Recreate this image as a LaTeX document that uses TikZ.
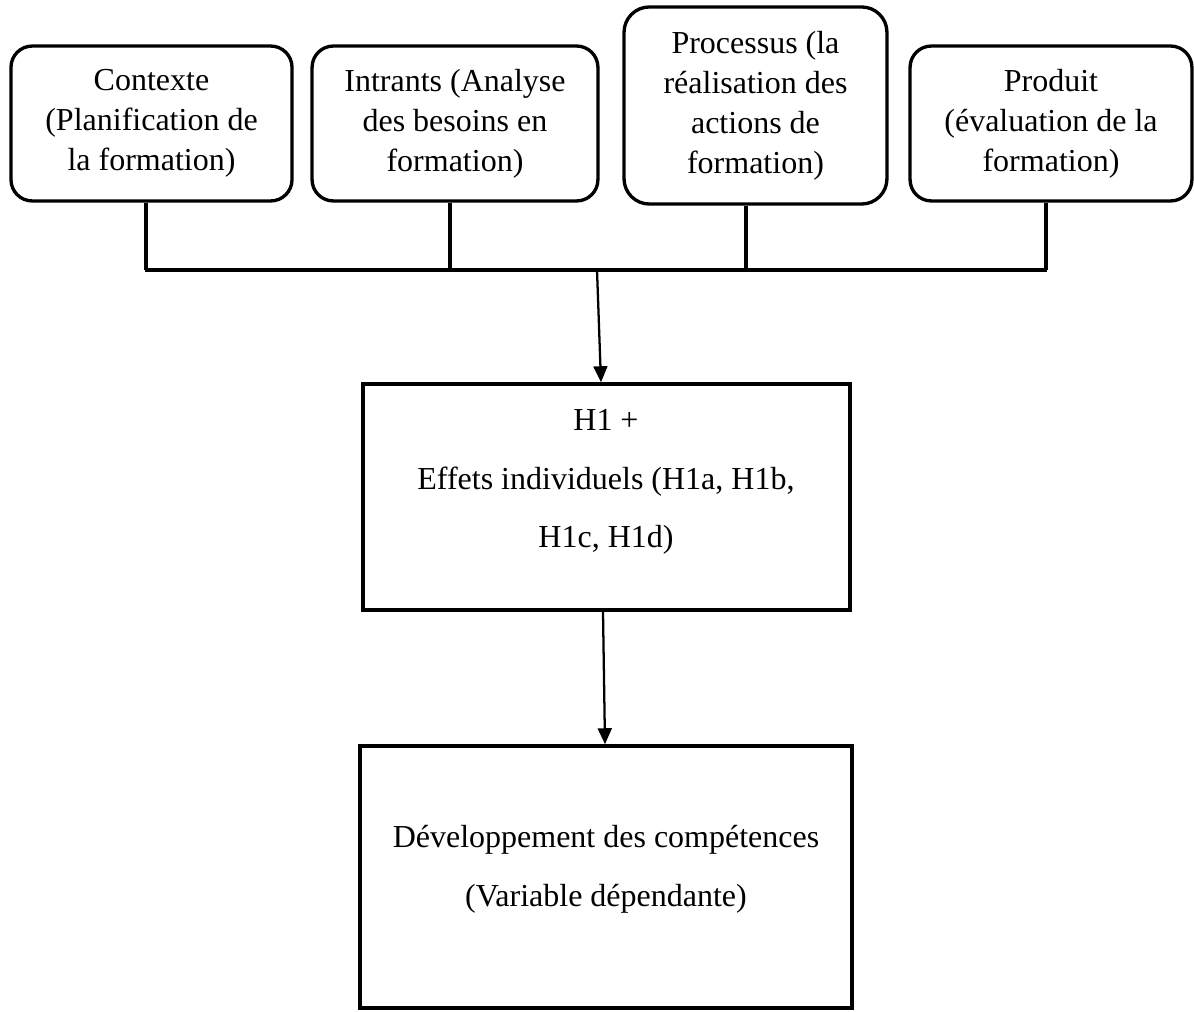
\documentclass[tikz,border=0pt]{standalone}
\usepackage{fontspec}
\setmainfont{Liberation Serif}
\usetikzlibrary{arrows.meta}

\tikzset{
  topbox/.style={draw, line width=1.25pt, rounded corners=8pt, align=center,
    inner sep=0pt, font=\fontsize{12}{15}\selectfont},
  plainbox/.style={draw, line width=1.35pt, inner sep=0pt},
  boxtext/.style={align=center, inner sep=0pt, font=\fontsize{12}{22}\selectfont},
  link/.style={line width=1.3pt},
  flow/.style={line width=0.85pt, -{Triangle[length=6pt,width=5.2pt]}}
}

\begin{document}
\begin{tikzpicture}[x=0.375pt,y=-0.375pt]
  \useasboundingbox[fill=white] (0,0) rectangle (1194,1012);

  % the four inputs
  \node[topbox, minimum width=105.4pt, minimum height=58.1pt] (ctx) at (151.5,123.5)
    {Contexte\\(Planification de\\la formation)};
  \node[topbox, minimum width=107.2pt, minimum height=58.1pt] (intr) at (455,123.5)
    {Intrants (Analyse\\des besoins en\\formation)};
  \node[topbox, rounded corners=9.5pt, minimum width=98.6pt, minimum height=73.9pt] (proc) at (755.5,105.5)
    {Processus (la\\réalisation des\\actions de\\formation)};
  \node[topbox, minimum width=105.7pt, minimum height=58.1pt] (prod) at (1051,123.5)
    {Produit\\(évaluation de la\\formation)};

  % hypothesis box and outcome box
  \node[plainbox, minimum width=182.6pt, minimum height=84.7pt] (hyp) at (606.5,497) {};
  \node[boxtext] (hyptext) at (606,482) {H1 +\\Effets individuels (H1a, H1b,\\H1c, H1d)};
  \node[plainbox, minimum width=184.5pt, minimum height=98.2pt] (dev) at (606,877) {};
  \node[boxtext] (devtext) at (606,869) {Développement des compétences\\(Variable dépendante)};

  % junction points of the collecting bar
  \coordinate (j1) at (146,270);
  \coordinate (j2) at (450,270);
  \coordinate (j3) at (746,270);
  \coordinate (j4) at (1046,270);
  \coordinate (jm) at (597,270);
  \coordinate (xa) at (601,0);
  \coordinate (xb) at (603,0);
  \coordinate (xc) at (605,0);

  \draw[link] (ctx.south -| j1) -- (j1);
  \draw[link] (intr.south -| j2) -- (j2);
  \draw[link] (proc.south -| j3) -- (j3);
  \draw[link] (prod.south -| j4) -- (j4);
  \draw[link] ([xshift=-0.5pt]j1) -- ([xshift=0.5pt]j4);

  \draw[flow] (jm) -- (hyp.north -| xa);
  \draw[flow] (hyp.south -| xb) -- (dev.north -| xc);
\end{tikzpicture}
\end{document}
